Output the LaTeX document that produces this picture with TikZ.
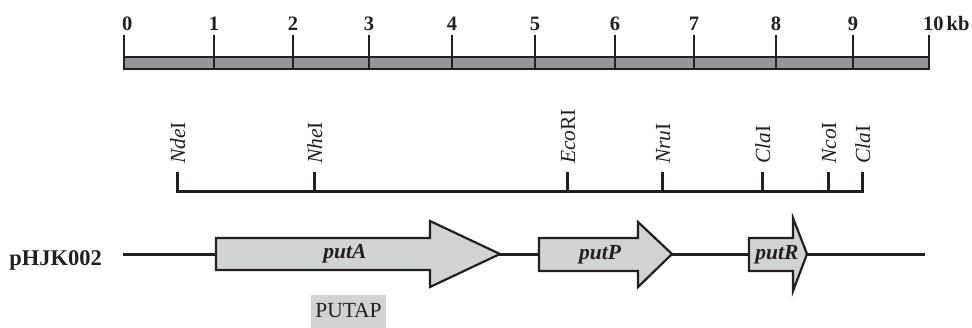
\documentclass[tikz,border=0pt]{standalone}
\usepackage{fontspec}
\setmainfont{Liberation Serif}
\definecolor{ink}{HTML}{231F20}
\definecolor{barfill}{HTML}{939598}
\definecolor{genefill}{HTML}{D1D3D4}
\definecolor{putfill}{HTML}{D3D3D3}
\newcommand{\bigsz}{\fontsize{21.5}{25}\selectfont}
\newcommand{\numsz}{\fontsize{20.5}{24}\selectfont}
\begin{document}
\begin{tikzpicture}[x=1pt,y=-1pt,
  every node/.style={inner sep=0pt, text=ink},
  numlabel/.style={font=\numsz\bfseries, anchor=base},
  barbox/.style={draw=ink, line width=2pt, fill=barfill},
  tickline/.style={draw=ink, line width=1.3pt},
  mapline/.style={draw=ink, line width=3pt},
  site/.style={font=\bigsz, rotate=90, anchor=base west},
  geneline/.style={draw=ink, line width=3pt},
  genebox/.style={draw=ink, line width=2.2pt, fill=genefill, line join=miter},
  genelabel/.style={font=\bigsz\bfseries\itshape},
]
\useasboundingbox (0,0) rectangle (972,327);

% scale bar
\draw[barbox] (124,57) rectangle (929,69);
\foreach \x/\l in {124/0,214/1,293/2,369/3,452/4,535/5,615/6,694/7,776/8,853/9,929/10}{
  \coordinate (t\l) at (\x,35);
  \coordinate (b\l) at (\x,57);
  \draw[tickline] (t\l) -- (b\l);
}
\foreach \x/\l in {214/1,293/2,369/3,452/4,535/5,615/6,694/7,776/8,853/9}{
  \coordinate (u\l) at (\x,57);
  \coordinate (v\l) at (\x,69);
  \draw[tickline] (u\l) -- (v\l);
  \node[numlabel] (n\l) at (\x,30) {\l};
}
\node[numlabel, anchor=base west] (n0) at (122,30) {0};
\node[numlabel, anchor=base west] (n10) at (923,30) {10\hspace{3pt}kb};

% restriction map
\coordinate (mL) at (177,191);
\coordinate (mR) at (862,191);
\draw[mapline] (177,172) -- (mL) -- (mR) -- (862,172);
\foreach \x/\n in {314/nhe,567/eco,662/nru,762/cla,828/nco}{
  \coordinate (s\n) at (\x,191);
  \draw[mapline] (s\n) -- (\x,172);
}
\node[site] (Lnde) at (185,164) {\textit{Nde}I};
\node[site] (Lnhe) at (322,164) {\textit{Nhe}I};
\node[site] (Leco) at (575,164) {\textit{Eco}RI};
\node[site] (Lnru) at (670,164) {\textit{Nru}I};
\node[site] (Lcla1) at (770,164) {\textit{Cla}I};
\node[site] (Lnco) at (836,164) {\textit{Nco}I};
\node[site] (Lcla2) at (870,164) {\textit{Cla}I};

% plasmid line
\node[font=\fontsize{22.5}{26}\selectfont\bfseries, anchor=base east] (plasmid) at (102,265) {pHJK002};
\coordinate (gL) at (123,254);
\coordinate (gR) at (925,254);
\draw[geneline] (gL) -- (gR);

% genes
\draw[genebox] (216,238) -- (430,238) -- (430,221) -- (500,254) -- (430,287) -- (430,270) -- (216,270) -- cycle;
\draw[genebox] (539,238) -- (638,238) -- (638,222) -- (672,254) -- (638,287) -- (638,271) -- (539,271) -- cycle;
\draw[genebox] (749,238) -- (793,238) -- (793,218) -- (807,254) -- (793,291) -- (793,271) -- (749,271) -- cycle;
\node[genelabel] (putA) at (345,254) {putA};
\node[genelabel] (putP) at (600,255) {putP};
\node[genelabel] (putR) at (777,255) {putR};

% PUTAP box
\node[fill=putfill, minimum width=75pt, minimum height=33pt, font=\bigsz] (putap) at (348.5,311) {PUTAP};
\end{tikzpicture}
\end{document}
